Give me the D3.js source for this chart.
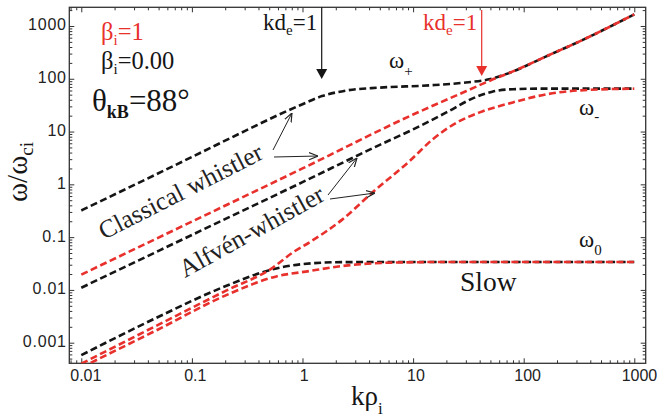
<!DOCTYPE html>
<html><head><meta charset="utf-8">
<script src="https://cdn.jsdelivr.net/npm/d3@7"></script>
<style>body{margin:0;background:#fff}svg{display:block}</style>
</head><body><svg id="c" width="658" height="420"></svg>
<script>
// ---- data ----
const xMajor = [0.01, 0.1, 1, 10, 100, 1000];
const xLabels = ["0.01", "0.1", "1", "10", "100", "1000"];
const yMajor = [0.001, 0.01, 0.1, 1, 10, 100, 1000];
const yLabels = ["0.001", "0.01", "0.1", "1", "10", "100", "1000"];

// beta_i = 0.00 (black)
const kBlackPlus = [0.01, 0.1, 0.3, 0.6, 1, 1.5, 2.5, 5, 14, 30, 50, 80, 160, 320, 1000];
const wBlackPlus = [0.32, 3.3, 10.2, 20.5, 33, 47, 60, 68, 75, 85, 99, 138, 266, 511, 1660];
const kBlackMinus = [0.01, 0.1, 1, 5, 10, 20, 35, 52, 80, 150, 1000];
const wBlackMinus = [0.011, 0.11, 1.1, 5.6, 11, 23, 43, 57, 63.5, 65, 65];
const kBlackZero = [0.01, 0.05, 0.2, 0.54, 0.95, 2.3, 10, 1000];
const wBlackZero = [0.00058, 0.0031, 0.0117, 0.0246, 0.0305, 0.0336, 0.0338, 0.0338];

// beta_i = 1 (red)
const kRedPlus = [0.01, 0.1, 1, 10, 30, 50, 80, 160, 320, 1000];
const wRedPlus = [0.0195, 0.197, 2.0, 21, 58, 93, 138, 266, 511, 1660];
const kRedMinus = [0.01, 0.05, 0.2, 0.54, 0.82, 1.16, 2.3, 4.3, 9.3, 15, 25, 40, 80, 160, 320, 1000];
const wRedMinus = [0.0004, 0.0022, 0.0095, 0.0265, 0.0515, 0.08, 0.217, 0.706, 2.76, 7.1, 14.9, 23.1, 35.7, 50.7, 60.3, 65];
const kRedZero = [0.01, 0.05, 0.2, 0.58, 1.16, 2.3, 6.5, 20, 1000];
const wRedZero = [0.00034, 0.0018, 0.0078, 0.018, 0.0228, 0.0284, 0.0329, 0.0338, 0.0338];

// ---- chart ----
const L = 69.3, R = 645.7, T = 7.3, B = 363.3;
const svg = d3.select("#c");
const x = d3.scaleLog().domain([0.00779, 1268]).range([L, R]);
const y = d3.scaleLog().domain([0.000407, 2260]).range([B, T]);

function minors(domain) {
  const out = [];
  for (let e = -4; e <= 4; e++) for (let m = 2; m <= 9; m++) {
    const v = m * Math.pow(10, e);
    if (v > domain[0] && v < domain[1]) out.push(v);
  }
  return out;
}
const xMinor = minors(x.domain()), yMinor = minors(y.domain());
const axisColor = "#333";
const SANS = "'Liberation Sans', Arial, sans-serif";
const SERIF = "'Liberation Serif', 'Times New Roman', serif";

function styleAxis(g) {
  g.select(".domain").remove();
  g.selectAll(".tick line").attr("stroke", axisColor).attr("stroke-width", 1);
}
// bottom
svg.append("g").attr("transform", `translate(0,${B})`)
  .call(d3.axisBottom(x).tickValues(xMajor).tickSize(-5).tickPadding(6.3)
    .tickFormat((d, i) => xLabels[i]))
  .call(styleAxis)
  .call(g => g.selectAll("text").attr("font-family", SANS).attr("font-size", 16).attr("fill", "#222")
    .attr("dx", function () { return 0.13 * this.getComputedTextLength(); }));
svg.append("g").attr("transform", `translate(0,${B})`)
  .call(d3.axisBottom(x).tickValues(xMinor).tickSize(-3).tickFormat("")).call(styleAxis);
// top
svg.append("g").attr("transform", `translate(0,${T})`)
  .call(d3.axisTop(x).tickValues(xMajor).tickSize(-5).tickFormat("")).call(styleAxis);
svg.append("g").attr("transform", `translate(0,${T})`)
  .call(d3.axisTop(x).tickValues(xMinor).tickSize(-3).tickFormat("")).call(styleAxis);
// left
svg.append("g").attr("transform", `translate(${L},0)`)
  .call(d3.axisLeft(y).tickValues(yMajor).tickSize(-5).tickPadding(2.5)
    .tickFormat((d, i) => yLabels[i]))
  .call(styleAxis)
  .call(g => g.selectAll("text").attr("font-family", SANS).attr("font-size", 16).attr("fill", "#222")
    .attr("dy", "0.25em").attr("letter-spacing", 0.8));
svg.append("g").attr("transform", `translate(${L},0)`)
  .call(d3.axisLeft(y).tickValues(yMinor).tickSize(-3).tickFormat("")).call(styleAxis);
// right
svg.append("g").attr("transform", `translate(${R},0)`)
  .call(d3.axisRight(y).tickValues(yMajor).tickSize(-5).tickFormat("")).call(styleAxis);
svg.append("g").attr("transform", `translate(${R},0)`)
  .call(d3.axisRight(y).tickValues(yMinor).tickSize(-3).tickFormat("")).call(styleAxis);

svg.append("rect").attr("x", L).attr("y", T).attr("width", R - L).attr("height", B - T)
  .attr("fill", "none").attr("stroke", axisColor).attr("stroke-width", 1.3);

// clip
svg.append("clipPath").attr("id", "clip").append("rect")
  .attr("x", L).attr("y", T).attr("width", R - L).attr("height", B - T);

const line = d3.line().x(d => x(d[0])).y(d => y(d[1])).curve(d3.curveMonotoneX);
const gCurves = svg.append("g").attr("clip-path", "url(#clip)");
const BLACK = "#151515", RED = "#e8302c";
const curves = [
  [kBlackPlus, wBlackPlus, BLACK], [kBlackMinus, wBlackMinus, BLACK], [kBlackZero, wBlackZero, BLACK],
  [kRedPlus, wRedPlus, RED], [kRedMinus, wRedMinus, RED], [kRedZero, wRedZero, RED]
];
curves.forEach(([ks, ws, col]) => {
  gCurves.append("path").datum(ks.map((k, i) => [k, ws[i]]))
    .attr("d", line).attr("fill", "none").attr("stroke", col)
    .attr("stroke-width", 2.6).attr("stroke-dasharray", "7,3.5");
});

// ---- texts ----
function txt(xp, yp, size, col, parts, opts = {}) {
  const t = svg.append("text").attr("x", xp).attr("y", yp).attr("font-family", SERIF)
    .attr("font-size", size).attr("fill", col);
  if (opts.transform) t.attr("transform", opts.transform);
  parts.forEach(p => {
    const s = t.append("tspan").text(p.t).attr("font-family", SERIF);
    if (p.size) s.attr("font-size", p.size);
    if (p.dy) s.attr("dy", p.dy);
    if (p.bold) s.attr("font-weight", "bold");
  });
  return t;
}
txt(101, 39.5, 24.5, RED, [{t: "β"}, {t: "i", size: 15, dy: 5}, {t: "=1", dy: -5}]);
txt(101, 69.3, 24.5, BLACK, [{t: "β"}, {t: "i", size: 15, dy: 5}, {t: "=0.00", dy: -5}]);
txt(92, 111, 31, BLACK, [{t: "θ"}, {t: "kB", size: 18, dy: 7, bold: true}, {t: "=88°", dy: -7}]);
txt(263, 29.5, 23, BLACK, [{t: "kd"}, {t: "e", size: 15, dy: 5}, {t: "=1", dy: -5}]);
txt(423, 29.5, 23, RED, [{t: "kd"}, {t: "e", size: 15, dy: 5}, {t: "=1", dy: -5}]);
txt(389, 68, 23, BLACK, [{t: "ω"}, {t: "+", size: 15, dy: 8}]);
txt(579, 115, 23, BLACK, [{t: "ω"}, {t: "-", size: 15, dy: 6}]);
txt(579, 247, 23, BLACK, [{t: "ω"}, {t: "0", size: 15, dy: 8}]);
txt(460, 290.5, 27.5, BLACK, [{t: "Slow"}]);
txt(0, 0, 25.5, "#222", [{t: "Classical whistler"}], {transform: "translate(104,240) rotate(-27)"});
txt(0, 0, 25.5, "#222", [{t: "Alfvén-whistler"}], {transform: "translate(185,278) rotate(-29)"});
// axis titles
txt(351, 405, 27, BLACK, [{t: "kρ"}, {t: "i", size: 17, dy: 9}]);
txt(0, 0, 29, BLACK, [{t: "ω/ω"}, {t: "ci", size: 19, dy: 6}], {transform: "translate(27,202) rotate(-90)"});

// kd_e arrows
function vArrow(xp, y0, y1, col, w) {
  svg.append("line").attr("x1", xp).attr("x2", xp).attr("y1", y0).attr("y2", y1 - 8)
    .attr("stroke", col).attr("stroke-width", w);
  svg.append("path").attr("d", `M${xp - 5.5},${y1 - 10} L${xp + 5.5},${y1 - 10} L${xp},${y1} Z`).attr("fill", col);
}
vArrow(321.7, T, 79, BLACK, 1.2);
vArrow(481.7, 10, 76, RED, 1.2);

// label arrows
const defs = svg.append("defs");
defs.append("marker").attr("id", "vhead").attr("viewBox", "0 0 10 10").attr("refX", 10).attr("refY", 5)
  .attr("markerWidth", 9).attr("markerHeight", 9).attr("markerUnits", "userSpaceOnUse").attr("orient", "auto")
  .append("path").attr("d", "M0,1 L10,5 L0,9").attr("fill", "none").attr("stroke", "#222").attr("stroke-width", 1.3);
[[273, 150, 292, 113], [274, 157, 318, 156], [328, 195, 357, 158], [330, 199, 375, 193]].forEach(a => {
  svg.append("line").attr("x1", a[0]).attr("y1", a[1]).attr("x2", a[2]).attr("y2", a[3])
    .attr("stroke", "#222").attr("stroke-width", 1).attr("marker-end", "url(#vhead)");
});
</script></body></html>
